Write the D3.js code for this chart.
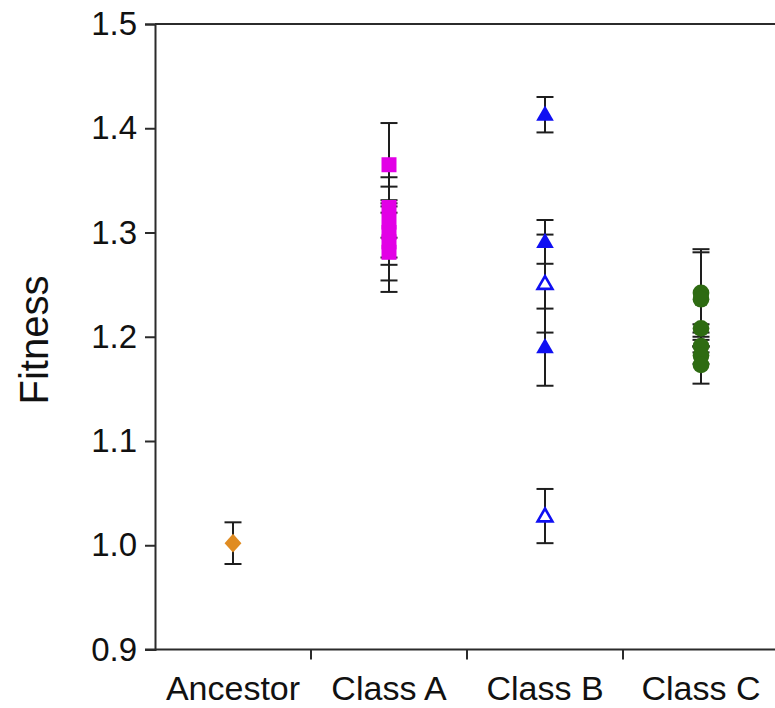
<!DOCTYPE html>
<html><head><meta charset="utf-8">
<script src="https://cdn.jsdelivr.net/npm/d3@7"></script>
<style>
html,body{margin:0;padding:0;background:#fff;}
svg{display:block;font-family:"Liberation Sans",Arial,sans-serif;}
</style></head>
<body><svg id="chart" width="775" height="708"></svg>
<script>
// ---- data ----
const categories = ["Ancestor", "Class A", "Class B", "Class C"];
const yTicks = [0.9, 1.0, 1.1, 1.2, 1.3, 1.4, 1.5];

const ancestorMean = [1.002];
const ancestorErr  = [0.020];

const classAMean = [1.365, 1.324, 1.310, 1.300, 1.291, 1.281];
const classAErr  = [0.040, 0.029, 0.034, 0.031, 0.037, 0.038];

const classBFilledMean = [1.413, 1.291, 1.190];
const classBFilledErr  = [0.017, 0.021, 0.037];
const classBOpenMean   = [1.251, 1.028];
const classBOpenErr    = [0.047, 0.026];

const classCMean = [1.242, 1.236, 1.208, 1.191, 1.182, 1.173];
const classCErr  = [0.042, 0.045, 0.004, 0.006, 0.008, 0.018];

// ---- layout ----
const svg = d3.select("#chart");
const mLeft = 155, mRight = 779, mTop = 24, mBottom = 649.5;

const x = d3.scaleBand().domain(categories).range([mLeft, mRight]);
const y = d3.scaleLinear().domain([0.9, 1.5]).range([mBottom, mTop]);

const axisColor = "#2b2b2b";

// top border line
svg.append("line").attr("x1", mLeft).attr("x2", mRight)
  .attr("y1", y(1.5)).attr("y2", y(1.5))
  .attr("stroke", axisColor).attr("stroke-width", 2);

// y axis
const yAxis = svg.append("g").attr("transform", `translate(${mLeft},0)`)
  .call(d3.axisLeft(y).tickValues(yTicks).tickFormat(d3.format(".1f")).tickSizeOuter(0).tickSize(10).tickPadding(8));
yAxis.selectAll("path,line").attr("stroke", axisColor).attr("stroke-width", 2);
yAxis.selectAll("text").attr("font-size", 33).attr("fill", "#111")
  .attr("font-family", "Liberation Sans, Arial, sans-serif");

// x axis (ticks at category boundaries)
const xAxisG = svg.append("g").attr("transform", `translate(0,${mBottom})`);
xAxisG.append("line").attr("x1", mLeft - 10).attr("x2", mRight)
  .attr("stroke", axisColor).attr("stroke-width", 2);
const boundaries = categories.slice(1).map(c => x(c));
xAxisG.selectAll(".xt").data(boundaries).join("line")
  .attr("x1", d => d).attr("x2", d => d).attr("y1", 0).attr("y2", 10)
  .attr("stroke", axisColor).attr("stroke-width", 2);
xAxisG.selectAll(".xl").data(categories).join("text")
  .attr("x", d => x(d) + x.bandwidth() / 2)
  .attr("y", 50)
  .attr("text-anchor", "middle")
  .attr("font-size", 34).attr("fill", "#111")
  .text(d => d);

// y title
svg.append("text")
  .attr("transform", `translate(48,340) rotate(-90)`)
  .attr("text-anchor", "middle")
  .attr("font-size", 40).attr("fill", "#111")
  .text("Fitness");

// ---- marks ----
const diamond = {
  draw(ctx, size) {
    const h = Math.sqrt(size) * 0.55, w = h * 0.9;
    ctx.moveTo(0, -h); ctx.lineTo(w, 0); ctx.lineTo(0, h); ctx.lineTo(-w, 0); ctx.closePath();
  }
};

const groups = [
  {cat: "Ancestor", mean: ancestorMean, err: ancestorErr, type: diamond, size: 290, fill: "#e08c22", stroke: "none"},
  {cat: "Class A", mean: classAMean, err: classAErr, type: d3.symbolSquare, size: 225, fill: "#e200e6", stroke: "none"},
  {cat: "Class B", mean: classBFilledMean, err: classBFilledErr, type: d3.symbolTriangle, size: 135, fill: "#1010f2", stroke: "none"},
  {cat: "Class B", mean: classBOpenMean, err: classBOpenErr, type: d3.symbolTriangle, size: 95, fill: "#fff", stroke: "#1010f2"},
  {cat: "Class C", mean: classCMean, err: classCErr, type: d3.symbolCircle, size: 220, fill: "#2e6b12", stroke: "none"}
];

const capHalf = 8.5;
const errLayer = svg.append("g");
const markLayer = svg.append("g");

groups.forEach(g => {
  const cx = x(g.cat) + x.bandwidth() / 2;
  const pts = g.mean.map((m, i) => ({m, e: g.err[i]}));
  const eg = errLayer.selectAll(null).data(pts).join("g")
    .attr("stroke", "#1e1e1e").attr("stroke-width", 2);
  eg.append("line").attr("x1", cx).attr("x2", cx)
    .attr("y1", d => y(d.m + d.e)).attr("y2", d => y(d.m - d.e));
  eg.append("line").attr("x1", cx - capHalf).attr("x2", cx + capHalf)
    .attr("y1", d => y(d.m + d.e)).attr("y2", d => y(d.m + d.e));
  eg.append("line").attr("x1", cx - capHalf).attr("x2", cx + capHalf)
    .attr("y1", d => y(d.m - d.e)).attr("y2", d => y(d.m - d.e));

  markLayer.selectAll(null).data(pts).join("path")
    .attr("transform", d => `translate(${cx},${y(d.m) + (g.type === d3.symbolTriangle ? 1 : 0)})`)
    .attr("d", d3.symbol().type(g.type).size(g.size))
    .attr("fill", g.fill)
    .attr("stroke", g.stroke)
    .attr("stroke-width", g.stroke === "none" ? 0 : 2.6);
});
</script></body></html>
